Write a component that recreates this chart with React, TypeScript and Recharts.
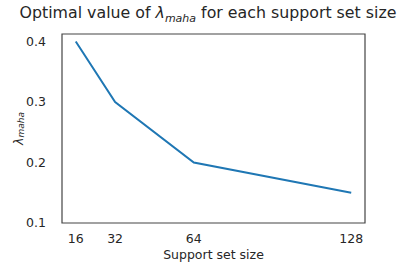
import { LineChart, Line, XAxis, YAxis, ReferenceArea } from 'recharts';

const supportSizes = [16, 32, 64, 128];
const lambdaMaha = [0.4, 0.3, 0.2, 0.15];
const yTicks = [0.1, 0.2, 0.3, 0.4];

const data = supportSizes.map((size, i) => ({ size, value: lambdaMaha[i] }));

const FONT = '"DejaVu Sans", sans-serif';
const INK = '#262626';

const YLabel = ({ viewBox }: any) => {
  const cx = 18;
  const cy = viewBox.y + viewBox.height / 2;
  return (
    <text x={cx} y={cy} transform={`rotate(-90 ${cx} ${cy})`} textAnchor="middle" dominantBaseline="central" fill={INK} fontSize={12.5} fontFamily={FONT}>
      <tspan fontStyle="italic">λ</tspan>
      <tspan fontStyle="italic" fontSize={9} dy={3}>maha</tspan>
    </text>
  );
};

export default function App() {
  return (
    <div style={{ position: 'absolute', left: 0, top: 0, width: 409, height: 264, background: '#fff', fontFamily: FONT }}>
      <div style={{ position: 'absolute', left: 0, width: 416, top: 3, textAlign: 'center', fontSize: 15.8, color: INK, whiteSpace: 'nowrap' }}>
        Optimal value of <i>λ</i><sub style={{ fontSize: 11, fontStyle: 'italic' }}>maha</sub> for each support set size
      </div>
      <LineChart width={409} height={264} data={data} margin={{ top: 34, right: 44, bottom: 0, left: 0 }}>
        <XAxis
          dataKey="size"
          type="number"
          domain={[10.4, 133.6]}
          ticks={supportSizes}
          tickLine={false}
          axisLine={false}
          height={41}
          tickMargin={5}
          tick={{ fill: INK, fontSize: 12.5, fontFamily: FONT }}
          label={{ value: 'Support set size', position: 'insideBottom', offset: 5, fill: INK, fontSize: 12.5, fontFamily: FONT }}
        />
        <YAxis
          type="number"
          domain={[0.1, 0.4125]}
          ticks={yTicks}
          allowDataOverflow
          tickLine={false}
          axisLine={false}
          width={62}
          tickMargin={10}
          tickFormatter={(v: number) => v.toFixed(1)}
          tick={{ fill: INK, fontSize: 12.5, fontFamily: FONT }}
          label={<YLabel />}
        />
        <ReferenceArea x1={10.4} x2={133.6} y1={0.1} y2={0.4125} fill="none" stroke="#444" strokeWidth={1.2} ifOverflow="visible" />
        <Line type="linear" dataKey="value" stroke="#1f77b4" strokeWidth={2} dot={false} isAnimationActive={false} />
      </LineChart>
    </div>
  );
}
